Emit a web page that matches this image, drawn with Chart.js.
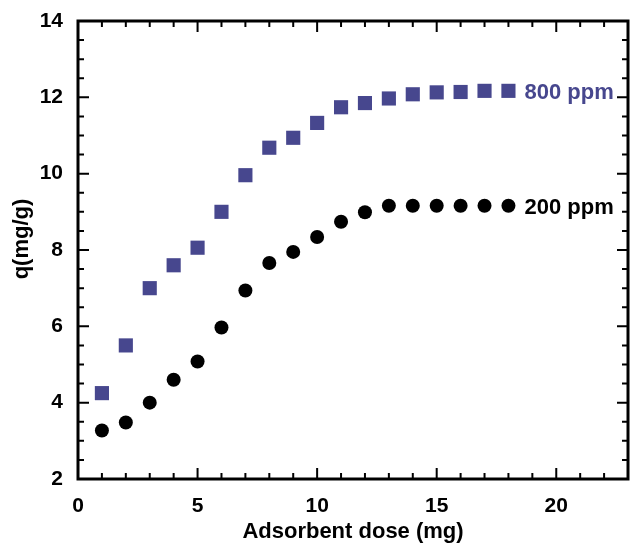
<!DOCTYPE html>
<html>
<head>
<meta charset="utf-8">
<script src="https://cdn.jsdelivr.net/npm/chart.js@4/dist/chart.umd.min.js"></script>
<style>
  html, body { margin: 0; padding: 0; background: #fff; }
  canvas { display: block; }
</style>
</head>
<body>
<canvas id="chart" width="632" height="543"></canvas>
<script>
// adsorbent dose (mg)
const doses = [1, 2, 3, 4, 5, 6, 7, 8, 9, 10, 11, 12, 13, 14, 15, 16, 17, 18]
// q (mg/g) at 800 ppm and 200 ppm
const q800 = [4.25, 5.5, 7.0, 7.6, 8.06, 9.0, 9.96, 10.68, 10.94, 11.33, 11.74, 11.85, 11.97, 12.08, 12.13, 12.14, 12.17, 12.17]
const q200 = [3.27, 3.48, 4.0, 4.6, 5.08, 5.97, 6.94, 7.66, 7.95, 8.34, 8.74, 8.99, 9.16, 9.16, 9.16, 9.16, 9.16, 9.16]
const seriesNames = ['800 ppm', '200 ppm']
const seriesColors = ['#47478e', '#000000']
const yTitle = 'q(mg/g)'

const FONT = '"Liberation Sans", Arial, sans-serif'

const toPoints = ys => doses.map((x, i) => ({ x: x, y: ys[i] }))

// chart.js pads the area for tick labels; the frame here must sit at fixed edges
const noPad = s => { s.paddingLeft = 0; s.paddingRight = 0; s.paddingTop = 0; s.paddingBottom = 0 }

// frame with inward major/minor ticks, y title, end-of-series labels
const framePlugin = {
    id: 'frame',
    afterDraw(chart) {
        const { ctx, chartArea: a, scales: { x, y } } = chart
        ctx.save()
        ctx.strokeStyle = '#000'
        ctx.lineWidth = 2
        for (let v = 1; v < 23; v++) {
            const px = x.getPixelForValue(v)
            const len = v % 5 === 0 ? 11 : 6
            ctx.beginPath()
            ctx.moveTo(px, a.bottom); ctx.lineTo(px, a.bottom - len)
            ctx.moveTo(px, a.top); ctx.lineTo(px, a.top + len)
            ctx.stroke()
        }
        for (let v = 2.5; v < 14; v += 0.5) {
            const py = y.getPixelForValue(v)
            const len = v % 2 === 0 ? 11 : 6
            ctx.beginPath()
            ctx.moveTo(a.left, py); ctx.lineTo(a.left + len, py)
            ctx.moveTo(a.right, py); ctx.lineTo(a.right - len, py)
            ctx.stroke()
        }
        ctx.lineWidth = 3
        ctx.strokeRect(a.left, a.top, a.right - a.left, a.bottom - a.top)

        ctx.font = 'bold 22px ' + FONT
        ctx.textBaseline = 'middle'
        ctx.textAlign = 'left'
        chart.data.datasets.forEach((ds, i) => {
            const last = ds.data[ds.data.length - 1]
            ctx.fillStyle = seriesColors[i]
            ctx.fillText(seriesNames[i], x.getPixelForValue(last.x) + 16, y.getPixelForValue(last.y) + 2)
        })

        ctx.fillStyle = '#000'
        ctx.textAlign = 'center'
        ctx.translate(22, (a.top + a.bottom) / 2 - 11)
        ctx.rotate(-Math.PI / 2)
        ctx.fillText(yTitle, 0, 0)
        ctx.restore()
    }
}

new Chart(document.getElementById('chart'), {
    type: 'scatter',
    data: {
        datasets: [{
            label: seriesNames[0],
            data: toPoints(q800),
            pointStyle: 'rect',
            pointRadius: 10,
            pointHoverRadius: 10,
            borderWidth: 0,
            backgroundColor: seriesColors[0]
        }, {
            label: seriesNames[1],
            data: toPoints(q200),
            pointStyle: 'circle',
            pointRadius: 7,
            pointHoverRadius: 7,
            borderWidth: 0,
            backgroundColor: seriesColors[1]
        }]
    },
    options: {
        responsive: false,
        animation: false,
        devicePixelRatio: 1,
        layout: { autoPadding: false, padding: { top: 21, right: 4, left: 0, bottom: 0 } },
        plugins: {
            legend: { display: false },
            tooltip: { enabled: false }
        },
        scales: {
            x: {
                type: 'linear',
                min: 0,
                max: 23,
                afterFit: s => { s.height = 64; noPad(s) },
                grid: { display: false, drawTicks: false },
                border: { display: false },
                ticks: {
                    stepSize: 5,
                    includeBounds: false,
                    padding: 15,
                    color: '#000',
                    maxRotation: 0,
                    font: { family: FONT, size: 21, weight: 'bold' }
                },
                title: {
                    display: true,
                    text: 'Adsorbent dose (mg)',
                    color: '#000',
                    padding: { top: 0, bottom: 0 },
                    font: { family: FONT, size: 22, weight: 'bold', lineHeight: 1 }
                }
            },
            y: {
                type: 'linear',
                min: 2,
                max: 14,
                afterFit: s => { s.width = 78; noPad(s) },
                grid: { display: false, drawTicks: false },
                border: { display: false },
                ticks: {
                    stepSize: 2,
                    padding: 15,
                    color: '#000',
                    font: { family: FONT, size: 21, weight: 'bold' }
                }
            }
        }
    },
    plugins: [framePlugin]
})
</script>
</body>
</html>
